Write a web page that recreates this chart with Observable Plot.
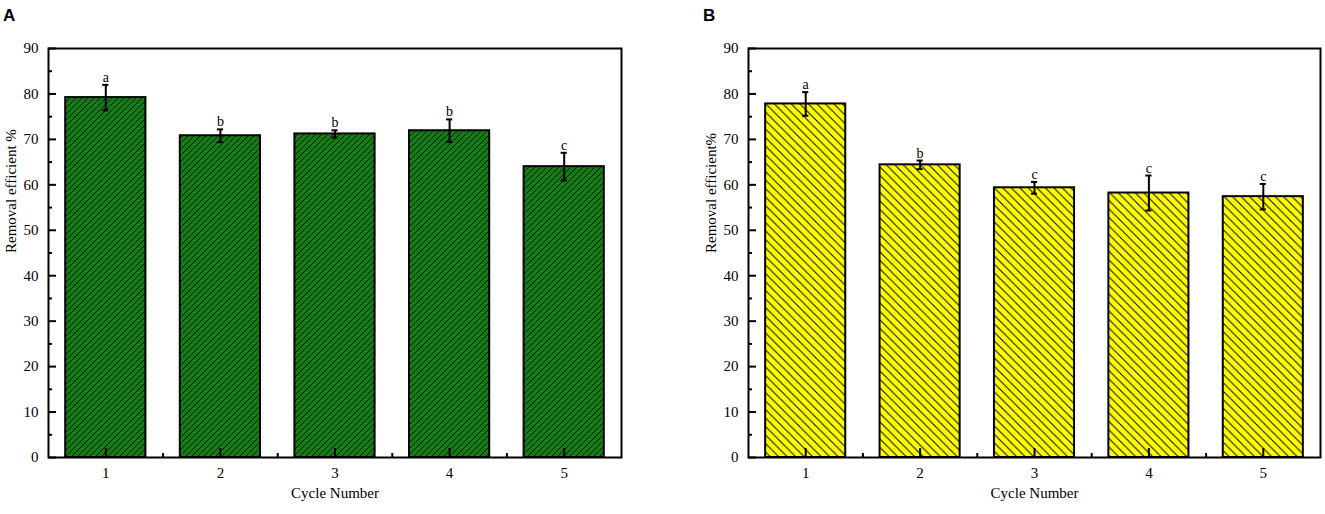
<!DOCTYPE html>
<html>
<head>
<meta charset="utf-8">
<script src="https://cdn.jsdelivr.net/npm/d3@7"></script>
<script src="https://cdn.jsdelivr.net/npm/@observablehq/plot@0.6"></script>
<style>
  body { margin: 0; background: #fff; }
  #wrap { display: flex; width: 1325px; height: 514px; }
  svg { display: block; }
  svg text { font-family: "Liberation Serif", "Times New Roman", serif; }
  svg text.tag { font-family: "Liberation Sans", Arial, sans-serif; }
</style>
</head>
<body>
<div id="wrap"></div>
<script>
const cycles = [1, 2, 3, 4, 5];
const meansA = [79.2, 70.8, 71.2, 71.9, 64.0];
const errA = [2.8, 1.4, 0.8, 2.5, 3.05];
const lettersA = ["a", "b", "b", "b", "c"];
const meansB = [77.8, 64.4, 59.35, 58.2, 57.4];
const errB = [2.6, 0.95, 1.3, 3.85, 2.8];
const lettersB = ["a", "b", "c", "c", "c"];
const yTicks = [0, 10, 20, 30, 40, 50, 60, 70, 80, 90];
const yMinor = [5, 15, 25, 35, 45, 55, 65, 75, 85];
const xMinor = [1.5, 2.5, 3.5, 4.5];

const serif = "Liberation Serif, Times New Roman, serif";

function panel({means, errs, letters, patternId, patternDef, yLabel, width, marginLeft, marginRight, tag, tagX}) {
  const data = cycles.map((c, i) => ({c, m: means[i], e: errs[i], l: letters[i]}));
  const svg = Plot.plot({
    width, height: 514,
    marginLeft, marginRight, marginTop: 48, marginBottom: 57,
    style: {fontFamily: serif, fontSize: "15px", color: "#000", background: "#fff"},
    x: {domain: [0.5, 5.5]},
    y: {domain: [0, 90]},
    marks: [
      Plot.rectY(data, {x1: d => d.c - 0.35, x2: d => d.c + 0.35, y1: 0, y2: "m",
        fill: `url(#${patternId})`, stroke: "#000", strokeWidth: 2}),
      Plot.ruleX(data, {x: "c", y1: d => d.m - d.e, y2: d => d.m + d.e, stroke: "#000", strokeWidth: 2}),
      Plot.ruleY(data, {x1: d => d.c - 0.027, x2: d => d.c + 0.027, y: d => d.m + d.e, stroke: "#000", strokeWidth: 2}),
      Plot.ruleY(data, {x1: d => d.c - 0.027, x2: d => d.c + 0.027, y: d => d.m - d.e, stroke: "#000", strokeWidth: 2}),
      Plot.text(data, {x: "c", y: d => d.m + d.e, text: "l", lineAnchor: "bottom", dy: -3, fontSize: 14, fontFamily: serif, fill: "#000"}),
      Plot.axisY({ticks: yTicks, tickSize: 0, tickPadding: 10, label: null, fontSize: 15, fontFamily: serif, fill: "#000"}),
      Plot.axisY({ticks: yTicks, tickSize: -8, text: null, label: null, strokeWidth: 2}),
      Plot.axisY({ticks: yMinor, tickSize: -4, text: null, label: null, strokeWidth: 2}),
      Plot.axisX({ticks: cycles, tickSize: 0, tickPadding: 10, label: null, fontSize: 15, fontFamily: serif, fill: "#000", tickFormat: d => String(d)}),
      Plot.axisX({ticks: cycles, tickSize: -9, text: null, label: null, strokeWidth: 2}),
      Plot.axisX({ticks: xMinor, tickSize: -4, text: null, label: null, strokeWidth: 2}),
      Plot.frame({stroke: "#000", strokeWidth: 2}),
      Plot.text([yLabel], {frameAnchor: "left", rotate: -90, dx: -37, fontSize: 15, fontFamily: serif, fill: "#000"}),
      Plot.text(["Cycle Number"], {frameAnchor: "bottom", dy: 40, fontSize: 15, fontFamily: serif, fill: "#000"})
    ]
  });
  d3.select(svg).insert("defs", ":first-child").html(patternDef);
  d3.select(svg).append("text")
    .attr("class", "tag")
    .attr("x", tagX).attr("y", 21)
    .attr("text-anchor", "start")
    .attr("font-weight", "bold").attr("font-size", 17)
    .attr("fill", "#000").text(tag);
  return svg;
}

const s1 = 6, s2 = 8.5;
const patA = `<pattern id="hatchA" patternUnits="userSpaceOnUse" width="${s1}" height="${s1}">
  <rect width="${s1}" height="${s1}" fill="#0f800f"/>
  <path d="M0,${s1} L${s1},0 M-1,1 L1,-1 M${s1-1},${s1+1} L${s1+1},${s1-1}" stroke="#000" stroke-width="1"/>
</pattern>`;
const patB = `<pattern id="hatchB" patternUnits="userSpaceOnUse" width="${s2}" height="${s2}">
  <rect width="${s2}" height="${s2}" fill="#ffff00"/>
  <path d="M0,0 L${s2},${s2} M-1,${s2-1} L1,${s2+1} M${s2-1},-1 L${s2+1},1" stroke="#000" stroke-width="1"/>
</pattern>`;

const wrap = document.getElementById("wrap");
wrap.appendChild(panel({means: meansA, errs: errA, letters: lettersA, patternId: "hatchA", patternDef: patA,
  yLabel: "Removal efficient %", width: 662, marginLeft: 48, marginRight: 41, tag: "A", tagX: 3}));
wrap.appendChild(panel({means: meansB, errs: errB, letters: lettersB, patternId: "hatchB", patternDef: patB,
  yLabel: "Removal efficient%", width: 663, marginLeft: 86, marginRight: 5, tag: "B", tagX: 41}));
</script>
</body>
</html>
